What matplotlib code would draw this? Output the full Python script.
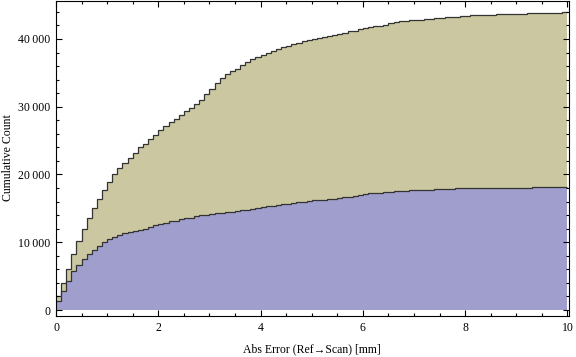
import matplotlib
matplotlib.use("Agg")
import matplotlib.pyplot as plt
from matplotlib.ticker import MultipleLocator, FuncFormatter
import numpy as np

# bin edges: 0..10 mm, width 0.1 mm
bin_edges = np.linspace(0, 10, 101)

# cumulative counts (upper, tan series)
upper_counts = [
    2000, 4000, 6100, 8200, 10200, 12000, 13600, 15100, 16400, 17700,
    18900, 20100, 21000, 21700, 22500, 23200, 24000, 24500, 25250, 25800,
    26500, 27200, 27700, 28200, 28800, 29300, 29800, 30400, 31000, 31900,
    32600, 33500, 34200, 34800, 35200, 35600, 36100, 36600, 37000, 37300,
    37600, 37900, 38200, 38500, 38800, 39000, 39300, 39400, 39700, 39850,
    40000, 40100, 40300, 40400, 40600, 40700, 40900, 41100, 41200, 41400,
    41600, 41700, 41900, 41950, 42100, 42300, 42450, 42600, 42700, 42750,
    42800, 42850, 43000, 43000, 43100, 43100, 43200, 43250, 43300, 43400,
    43450, 43500, 43500, 43550, 43600, 43600, 43650, 43700, 43700, 43700,
    43700, 43750, 43800, 43850, 43850, 43900, 43900, 43900, 43900, 43950,
]

# cumulative counts (lower, blue series)
lower_counts = [
    1370, 2800, 4300, 5800, 6700, 7600, 8300, 8900, 9500, 10000,
    10500, 10800, 11000, 11300, 11500, 11700, 11800, 12000, 12250, 12500,
    12750, 12900, 13100, 13200, 13400, 13600, 13650, 13820, 13950, 14000,
    14100, 14250, 14300, 14400, 14450, 14560, 14700, 14750, 14850, 15100,
    15250, 15300, 15350, 15450, 15640, 15720, 15760, 15880, 16000, 16050,
    16180, 16250, 16300, 16400, 16450, 16570, 16700, 16750, 16860, 17000,
    17050, 17200, 17250, 17300, 17350, 17450, 17550, 17550, 17600, 17650,
    17650, 17650, 17700, 17700, 17800, 17800, 17800, 17850, 18040, 18040,
    18040, 18040, 18040, 18040, 18040, 18040, 18040, 18040, 18040, 18040,
    18040, 18040, 18040, 18200, 18200, 18200, 18200, 18200, 18200, 18200,
]

x_label = "Abs Error (Ref\u2192Scan) [mm]"
y_label = "Cumulative Count"

serif = ["Liberation Serif", "DejaVu Serif"]
plt.rcParams["font.family"] = serif

fig = plt.figure(figsize=(5.76, 3.57), dpi=100)
ax = fig.add_axes([56 / 576, 41 / 357, 513 / 576, 315 / 357])

tan = "#CBC7A0"
blue = "#A09ECC"
edge = "#333333"

ax.stairs(upper_counts, bin_edges, fill=True, color=tan, baseline=0, lw=0)
ax.stairs(upper_counts, bin_edges, baseline=None, color=edge, lw=0.9)
ax.stairs(lower_counts, bin_edges, fill=True, color=blue, baseline=0, lw=0)
ax.stairs(lower_counts, bin_edges, baseline=None, color=edge, lw=0.9)

ax.set_xlim(0, 10.03)
ax.set_ylim(-880, 45600)

ax.xaxis.set_major_locator(MultipleLocator(2))
ax.xaxis.set_minor_locator(MultipleLocator(0.5))
ax.yaxis.set_major_locator(MultipleLocator(10000))
ax.yaxis.set_minor_locator(MultipleLocator(2000))

def fmt_y(v, pos):
    v = int(round(v))
    if v >= 1000:
        return f"{v // 1000}\u2009{v % 1000:03d}"
    return str(v)

ax.yaxis.set_major_formatter(FuncFormatter(fmt_y))
ax.xaxis.set_major_formatter(FuncFormatter(lambda v, p: f"{v:g}"))

ax.tick_params(which="both", direction="in", top=True, right=True,
               labelsize=8.5, width=0.8, color="black", labelcolor="black")
ax.tick_params(which="major", length=4.5, pad=4)
ax.tick_params(which="minor", length=2.5)

for s in ax.spines.values():
    s.set_linewidth(0.8)
    s.set_color("black")

fig.text(312 / 576, 1 - 349 / 357, x_label, fontsize=8.5,
         ha="center", va="center")
fig.text(8.5 / 576, 1 - 157.5 / 357, y_label, fontsize=8.5,
         ha="center", va="center", rotation=90)

fig.savefig("out.png", dpi=100)
